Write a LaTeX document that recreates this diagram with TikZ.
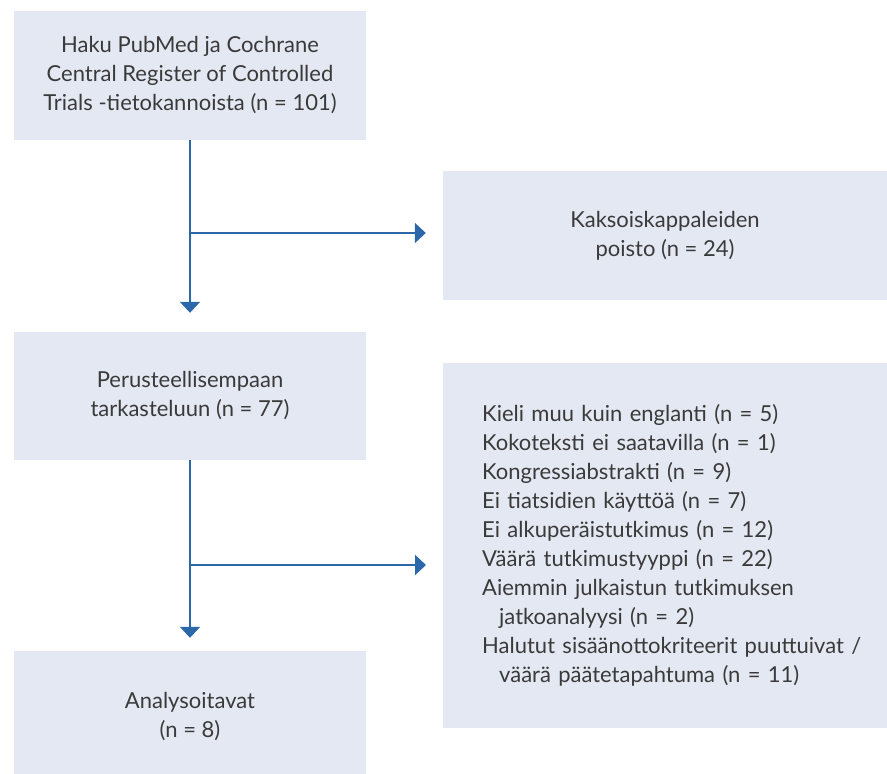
\documentclass[tikz,border=0pt]{standalone}
\usepackage{fontspec}
\setmainfont{Lato}
\usetikzlibrary{arrows.meta,calc}
\definecolor{boxfill}{HTML}{E4E8F2}
\definecolor{flowblue}{HTML}{2B68AA}
\definecolor{txt}{HTML}{3A3A3A}
\begin{document}
\begin{tikzpicture}[x=1pt,y=-1pt,
    box/.style={fill=boxfill,text=txt,align=center,inner sep=0pt,
      font=\fontsize{22}{29}\selectfont},
    flow/.style={draw=flowblue,line width=2.2pt,-{Triangle[width=20pt,length=11pt]}}]
  \useasboundingbox (0,0) rectangle (887,774);
  % vasen sarake
  \node[box,minimum width=352pt,minimum height=129pt] (haku) at (190,75.5)
    {Haku PubMed ja Cochrane\\Central Register of Controlled\\Trials -tietokannoista (n = 101)};
  \node[box,minimum width=352pt,minimum height=128pt] (perus) at (190,396)
    {Perusteellisempaan\\tarkasteluun (n = 77)};
  \node[box,minimum width=352pt,minimum height=132pt] (analyysi) at (190,717)
    {Analysoitavat\\(n = 8)};
  % oikea sarake
  \node[box,minimum width=444pt,minimum height=129pt] (poisto) at (665,235.5)
    {Kaksoiskappaleiden\\poisto (n = 24)};
  \node[box,align=left,anchor=west,inner xsep=39pt,text width=400pt,
    minimum height=365pt] (pois) at (443,545.5)
    {Kieli muu kuin englanti (n = 5)\\
     Kokoteksti ei saatavilla (n = 1)\\
     Kongressiabstrakti (n = 9)\\
     Ei tiatsidien käyttöä (n = 7)\\
     Ei alkuperäistutkimus (n = 12)\\
     Väärä tutkimustyyppi (n = 22)\\
     Aiemmin julkaistun tutkimuksen\\
     \hspace*{17pt}jatkoanalyysi (n = 2)\\
     Halutut sisäänottokriteerit puuttuivat /\\
     \hspace*{17pt}väärä päätetapahtuma (n = 11)};
  % nuolet
  \coordinate (b1) at (haku.south |- 0,233);
  \coordinate (b2) at (perus.south |- 0,565);
  \draw[flow,shorten >=19pt] (haku.south) -- (perus.north);
  \draw[flow,shorten >=17pt] (b1) -- (b1 -| poisto.west);
  \draw[flow,shorten >=13pt] (perus.south) -- (analyysi.north);
  \draw[flow,shorten >=17pt] (b2) -- (b2 -| pois.west);
\end{tikzpicture}
\end{document}
